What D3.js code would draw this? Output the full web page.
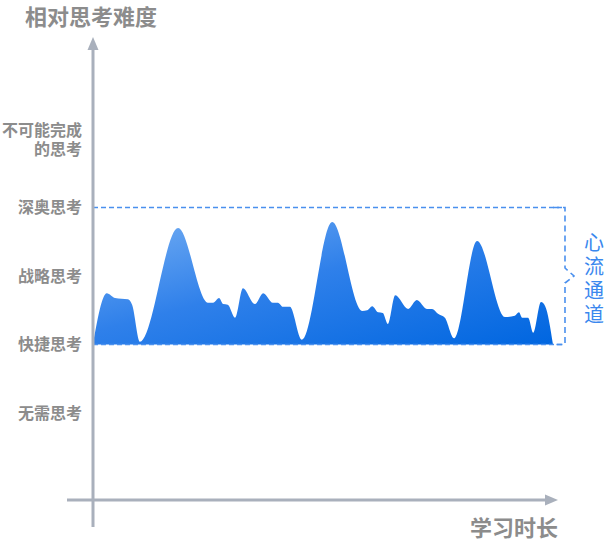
<!DOCTYPE html>
<html>
<head>
<meta charset="utf-8">
<script src="https://cdn.jsdelivr.net/npm/d3@7"></script>
<style>
  html, body { margin: 0; padding: 0; background: #ffffff; }
  svg { display: block; }
  text { font-family: "Noto Sans CJK SC", "Noto Sans", sans-serif; }
</style>
</head>
<body>
<svg id="chart" width="607" height="541"></svg>
<script>
// ---- data ----
const levels = ["无需思考", "快捷思考", "战略思考", "深奥思考", "不可能完成\n的思考"];
const time = [0, 3.0, 4.8, 7.6, 8.5, 10.2, 18.5, 25.0, 26.1, 27.4, 28.3, 29.3, 30.9, 32.6, 35.2, 37.0, 39.1, 40.2, 41.3, 42.8, 45.4, 52.0, 58.5, 59.6, 60.7, 62.0, 63.0, 64.1, 65.7, 68.5, 70.4, 72.6, 73.7, 75.0, 76.5, 78.5, 83.5, 89.6, 91.7, 92.6, 93.3, 94.6, 95.7, 97.4, 98.3, 100];
const difficulty = [1.0, 1.75, 1.68, 1.66, 1.58, 1.04, 2.70, 1.61, 1.61, 1.68, 1.59, 1.58, 1.39, 1.82, 1.59, 1.75, 1.61, 1.61, 1.55, 1.55, 1.07, 2.79, 1.49, 1.50, 1.56, 1.47, 1.46, 1.30, 1.72, 1.52, 1.65, 1.52, 1.52, 1.45, 1.39, 1.09, 2.51, 1.40, 1.42, 1.47, 1.39, 1.39, 1.17, 1.62, 1.56, 1.0];
const flowBand = [1, 3];  // 快捷思考 .. 深奥思考
const yTitle = "相对思考难度";
const xTitle = "学习时长";
const flowLabel = "心流通道";

// ---- setup ----
const svg = d3.select("#chart");
const axisColor = "#a9b0bc";
const textColor = "#8c8c8c";
const blue = "#4a90ee";

const x = d3.scaleLinear().domain([0, 100]).range([93, 553]);
const y = d3.scaleLinear().domain([0, 4]).range([413, 139]);

const defs = svg.append("defs");
const grad = defs.append("linearGradient").attr("id", "areaGrad")
  .attr("x1", "0").attr("y1", "0").attr("x2", "1").attr("y2", "1");
grad.append("stop").attr("offset", "0%").attr("stop-color", "#74aef3");
grad.append("stop").attr("offset", "45%").attr("stop-color", "#2f80ea");
grad.append("stop").attr("offset", "100%").attr("stop-color", "#0066e0");

// ---- area ----
const pts = time.map((t, i) => ({ t, v: difficulty[i] }));
const area = d3.area()
  .x(d => x(d.t))
  .y0(y(flowBand[0]))
  .y1(d => y(d.v))
  .curve(d3.curveMonotoneX);
svg.append("path").datum(pts).attr("d", area).attr("fill", "url(#areaGrad)");

// ---- flow band dashed lines + bracket ----
const bx = 565;
[flowBand[0], flowBand[1]].forEach(v => {
  svg.append("line")
    .attr("x1", x(0)).attr("x2", bx)
    .attr("y1", y(v)).attr("y2", y(v))
    .attr("stroke", blue).attr("stroke-width", 1.3)
    .attr("stroke-dasharray", "5,3");
});
const yTop = y(flowBand[1]), yBot = y(flowBand[0]);
const yMid = (yTop + yBot) / 2;
const br = d3.path();
br.moveTo(553, yTop); br.lineTo(bx, yTop); br.lineTo(bx, yMid - 8);
br.lineTo(bx + 9, yMid); br.lineTo(bx, yMid + 7); br.lineTo(bx, yBot); br.lineTo(553, yBot);
svg.append("path").attr("d", br.toString())
  .attr("fill", "none").attr("stroke", blue).attr("stroke-width", 1.6)
  .attr("stroke-dasharray", "6,4");

const fl = svg.append("text").attr("fill", "#3b88ee").attr("font-size", 20)
  .attr("text-anchor", "middle");
flowLabel.split("").forEach((c, i) => {
  fl.append("tspan").attr("x", 594).attr("y", 250 + i * 24).text(c);
});

// ---- axes ----
// y axis line with arrow
svg.append("line").attr("x1", 93).attr("x2", 93).attr("y1", 48).attr("y2", 527)
  .attr("stroke", axisColor).attr("stroke-width", 3);
svg.append("path").attr("d", "M93,37 L87.5,50 L98.5,50 Z").attr("fill", axisColor);
// x axis line with arrow
svg.append("line").attr("x1", 67).attr("x2", 548).attr("y1", 500).attr("y2", 500)
  .attr("stroke", axisColor).attr("stroke-width", 3);
svg.append("path").attr("d", "M558,500 L545,494.5 L545,505.5 Z").attr("fill", axisColor);

// category labels via axis
const yAxis = d3.axisLeft(y).tickValues(d3.range(levels.length)).tickSize(0).tickPadding(0)
  .tickFormat(i => levels[i]);
const gAxis = svg.append("g").attr("transform", "translate(82,0)").call(yAxis);
gAxis.select(".domain").remove();
gAxis.selectAll("text")
  .attr("fill", textColor).attr("font-size", 16).attr("font-weight", "bold")
  .attr("font-family", "'Noto Sans CJK SC', sans-serif")
  .each(function(i) {
    const lines = levels[i].split("\n");
    if (lines.length > 1) {
      const t = d3.select(this).text(null).attr("dy", null);
      lines.forEach((ln, k) => {
        t.append("tspan").attr("x", 0)
          .attr("dy", k === 0 ? "-0.2em" : "1.15em").text(ln);
      });
    }
  });

// titles
svg.append("text").attr("x", 25).attr("y", 25).attr("fill", textColor)
  .attr("font-size", 22).attr("font-weight", "bold").text(yTitle);
svg.append("text").attr("x", 558).attr("y", 536).attr("text-anchor", "end").attr("fill", textColor)
  .attr("font-size", 22).attr("font-weight", "bold").text(xTitle);
</script>
</body>
</html>
